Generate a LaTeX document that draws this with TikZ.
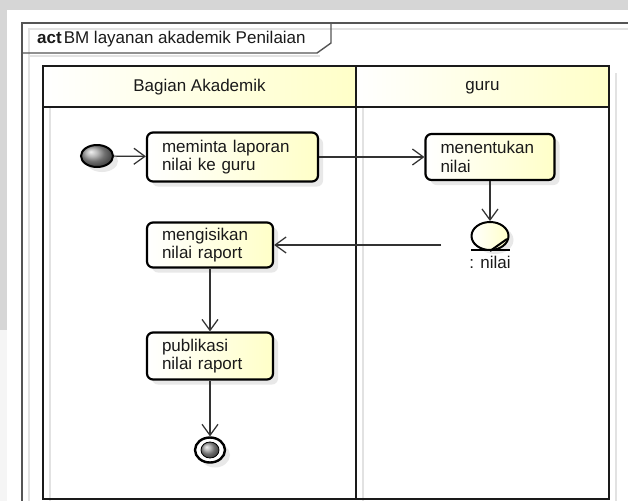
\documentclass[tikz,border=0pt]{standalone}
\usepackage{fontspec}
\setmainfont{Liberation Sans}
\usetikzlibrary{arrows.meta,shapes.geometric,shadows}

\definecolor{ink}{HTML}{1A1A1A}
\definecolor{lineclr}{HTML}{333333}
\definecolor{shadeline}{HTML}{E2E2E2}
\definecolor{bgband}{HTML}{D6D6D6}
\definecolor{paleyel}{HTML}{FFFFC8}
\definecolor{framegray}{HTML}{555555}

\tikzset{
  txt/.style={font=\fontsize{17}{18.5}\selectfont, text=ink},
  action/.style={txt, draw=black, line width=2.2pt, rounded corners=6pt,
    left color=white, right color=paleyel, align=left,
    inner xsep=15pt, inner ysep=0pt,
    drop shadow={shadow xshift=5pt, shadow yshift=-5pt, fill=gray!35, opacity=0.5}},
  flow/.style={draw=lineclr, line width=1.2pt,
    -{Straight Barb[length=11pt,width=16pt,line width=1.2pt]}},
  flowshade/.style={draw=shadeline, line width=1.2pt,
    -{Straight Barb[length=11pt,width=16pt,line width=1.2pt]}},
  lane/.style={draw=ink, line width=2.8pt},
  laneshade/.style={draw=shadeline, line width=2pt},
}

\begin{document}
\begin{tikzpicture}[x=1pt,y=-1pt]
\useasboundingbox (0,0) rectangle (628,501);

% page background
\fill[bgband] (0,0) rectangle (628,10);
\fill[bgband] (0,0) rectangle (7,330);
\fill[gray!8] (0,330) rectangle (7,501);
\fill[white] (7,10) rectangle (628,501);

% diagram frame with its name tab
\draw[shadeline, line width=1.5pt] (628,29) -- (29,29) -- (29,501);
\draw[framegray, line width=1.5pt] (628,23) -- (22,23) -- (22,501);
\draw[shadeline, line width=1.2pt] (29,56) -- (320,56);
\draw[framegray, line width=1.4pt] (22,53) -- (317,53) -- (331,43) -- (331,23);
\node[txt, anchor=base west, inner sep=0] (title) at (37,43)
  {\textbf{act}\kern2pt BM layanan akademik Penilaian};

% swimlanes
\draw[laneshade] (50,73) -- (50,501);
\draw[laneshade] (363,73) -- (363,501);
\draw[laneshade] (616,73) -- (616,501);
\shade[left color=white, right color=paleyel] (43,66) rectangle (356,107);
\shade[left color=white, right color=paleyel] (356,66) rectangle (609,107);
\draw[lane] (43,66) rectangle (609,499);
\draw[lane] (356,66) -- (356,499);
\draw[lane] (43,107) -- (609,107);
\node[txt] (laneA) at (199.5,87.5) {Bagian Akademik};
\node[txt] (laneB) at (482.5,87.5) {guru};

% activity nodes
\node[ellipse, draw=black, line width=2pt, minimum width=32pt, minimum height=22pt,
      inner sep=0, ball color=gray!75,
      drop shadow={shadow xshift=5pt, shadow yshift=-5pt, fill=gray!35, opacity=0.5}]
      (start) at (97,156) {};
\node[action, text width=141pt, minimum height=49pt] (a1) at (232.5,157)
  {meminta laporan\\nilai ke guru};
\node[action, text width=99pt, minimum height=46pt] (a3) at (490,157)
  {menentukan\\nilai};
\node[action, text width=96pt, minimum height=45pt] (a2) at (210,245)
  {mengisikan\\nilai raport};
\node[action, text width=96pt, minimum height=47pt] (a4) at (210,356)
  {publikasi\\nilai raport};

% object node
\node[ellipse, draw=black, line width=2pt, minimum width=37pt, minimum height=28pt,
      inner sep=0, left color=white, right color=paleyel,
      drop shadow={shadow xshift=5pt, shadow yshift=-4pt, fill=gray!35, opacity=0.5}]
      (nilai) at (490,236) {};
\draw[black, line width=2.2pt] (471,250) -- (510,250);
\draw[black, line width=2pt] (nilai.south) -- ++(17,-12);
\node[txt, inner sep=0] (nilaiLabel) at (490,262) {: nilai};

% final node
\node[ellipse, draw=black, line width=2.4pt, fill=white, minimum width=30pt,
      minimum height=25pt, inner sep=0,
      drop shadow={shadow xshift=5pt, shadow yshift=-5pt, fill=gray!35, opacity=0.5}]
      (finish) at (210,450) {};
\shade[ball color=gray!75] (finish.center) ellipse [x radius=9, y radius=8];
\draw[black, line width=0.8pt] (finish.center) ellipse [x radius=9, y radius=8];

% control and object flows
\coordinate (src) at (441,245);
\begin{scope}[shift={(4,4)}]
  \draw[flowshade] (start) -- (a1);
  \draw[flowshade] (a1.east) -- (a3.west);
  \draw[flowshade] (a3) -- (nilai);
  \draw[flowshade] (src) -- (src -| a2.east);
  \draw[flowshade] (a2) -- (a4);
  \draw[flowshade] (a4) -- (finish);
\end{scope}
\draw[flow] (start) -- (a1);
\draw[flow] (a1.east) -- (a3.west);
\draw[flow] (a3) -- (nilai);
\draw[flow] (src) -- (src -| a2.east);
\draw[flow] (a2) -- (a4);
\draw[flow] (a4) -- (finish);
\end{tikzpicture}
\end{document}
